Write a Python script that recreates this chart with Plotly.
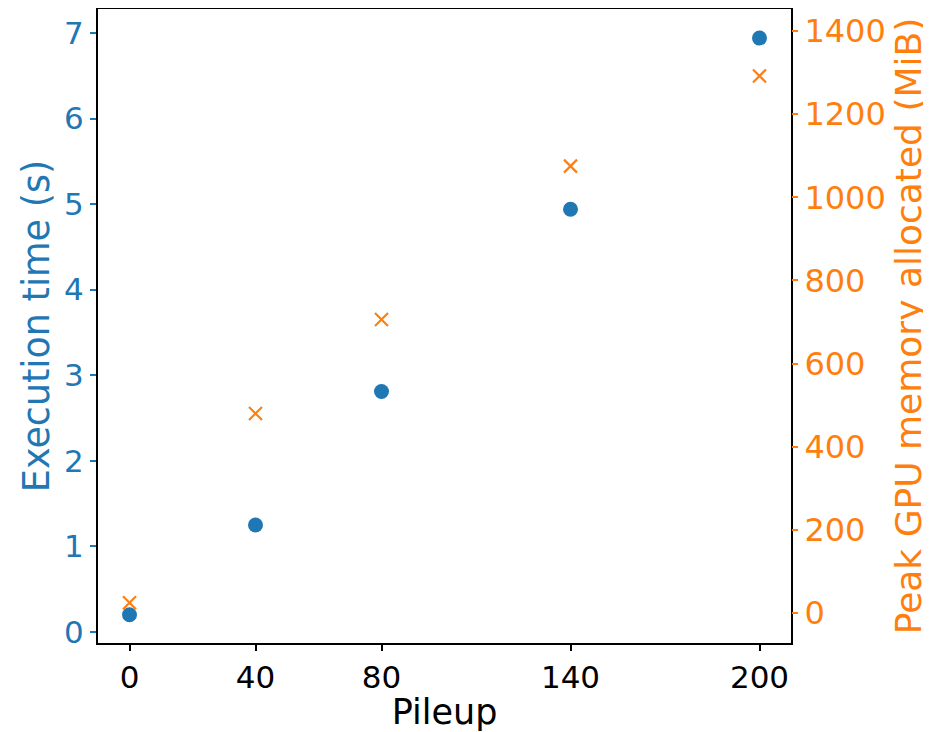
import plotly.graph_objects as go

pileup = [0, 40, 80, 140, 200]
exec_time = [0.20, 1.25, 2.81, 4.94, 6.94]
gpu_mem = [25, 480, 706, 1075, 1292]

x_ticks = [0, 40, 80, 140, 200]
left_ticks = [0, 1, 2, 3, 4, 5, 6, 7]
right_ticks = [0, 200, 400, 600, 800, 1000, 1200, 1400]

BLUE = "#1f77b4"
ORANGE = "#ff7f0e"
FONT = "DejaVu Sans"

fig = go.Figure()
fig.add_trace(go.Scatter(
    x=pileup, y=exec_time, mode="markers",
    marker=dict(color=BLUE, size=15, symbol="circle"),
    yaxis="y", showlegend=False))
fig.add_trace(go.Scatter(
    x=pileup, y=gpu_mem, mode="markers",
    marker=dict(color=ORANGE, size=13, symbol="x-thin",
                line=dict(color=ORANGE, width=2.2)),
    yaxis="y2", showlegend=False))

fig.update_layout(
    width=923, height=724,
    margin=dict(l=90, r=140, t=1, b=89, autoexpand=False),
    paper_bgcolor="white", plot_bgcolor="white",
    font=dict(family=FONT, size=30, color="black"),
    xaxis=dict(
        range=[-10, 210], tickvals=x_ticks, ticktext=[str(v) for v in x_ticks],
        showgrid=False, zeroline=False, automargin=False,
        showline=True, linecolor="black", linewidth=2, mirror=True,
        ticks="outside", ticklen=6, tickwidth=1.5, tickcolor="black",
        tickfont=dict(size=31, color="black", family=FONT),
        title=dict(text="Pileup", font=dict(size=35, color="black", family=FONT), standoff=0),
    ),
    yaxis=dict(
        range=[-0.13, 7.28], tickvals=left_ticks,
        showgrid=False, zeroline=False, automargin=False,
        showline=True, linecolor="black", linewidth=2, mirror=True,
        ticks="outside", ticklen=6, tickwidth=1.5, tickcolor=BLUE,
        tickfont=dict(size=31, color=BLUE, family=FONT),
        title=dict(text="Execution time (s)", font=dict(size=36.5, color=BLUE, family=FONT), standoff=3),
    ),
    yaxis2=dict(
        range=[-72, 1453], tickvals=right_ticks,
        overlaying="y", side="right", anchor="x", automargin=False,
        showgrid=False, zeroline=False,
        ticks="outside", ticklen=6, tickwidth=1.5, tickcolor=ORANGE,
        tickfont=dict(size=32, color=ORANGE, family=FONT),
        title=dict(text="Peak GPU memory allocated (MiB)", font=dict(size=36, color=ORANGE, family=FONT), standoff=10),
    ),
)

fig.write_html("out.html")
